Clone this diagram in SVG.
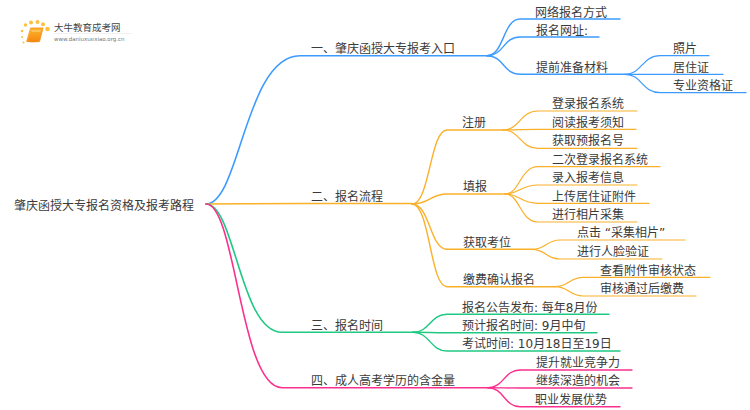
<svg xmlns="http://www.w3.org/2000/svg" width="750" height="410" viewBox="0 0 750 410">
<style>
text{font-family:"DejaVu Sans","Noto Sans CJK SC",sans-serif;font-size:12px;fill:#3a3a3a}
path{fill:none;stroke-linecap:round}
.b{stroke:#3d9bff}.o{stroke:#fbb02a}.g{stroke:#1fc982}.p{stroke:#fb2f8d}
.w1{stroke-width:1.6}.w2{stroke-width:1.4}.w3{stroke-width:1.2}
.dot{fill:#fcc23e}
</style>
<defs><linearGradient id="book" x1="0" y1="0" x2="0" y2="1"><stop offset="0" stop-color="#fbb62e"/><stop offset="1" stop-color="#f5860f"/></linearGradient></defs>
<rect width="750" height="410" fill="#fff"/>
<g id="logo">
<circle cx="22" cy="31" r="1.300" class="dot"/><circle cx="25.500" cy="25" r="1.700" class="dot"/><circle cx="31" cy="22.500" r="2" class="dot"/><circle cx="37.500" cy="22" r="2" class="dot"/><circle cx="43" cy="24.300" r="2" class="dot"/><circle cx="47.500" cy="29" r="2.300" class="dot"/><circle cx="22" cy="37" r="1" class="dot"/><circle cx="23.500" cy="42.500" r="1" class="dot"/>
<path d="M31 28H43L39.500 41.500Q33 42.500 27 41.500Z" style="fill:url(#book);stroke:#f58a10;stroke-width:.8"/>
<path d="M32 31H40" style="stroke:#ffd88a;stroke-width:1"/>
<path d="M54 33.500H132" style="stroke:#eee;stroke-width:.8"/>
<text x="54" y="31" style="font-size:9.500px;fill:#444">大牛教育成考网</text>
<text x="54" y="41" style="font-size:5.500px;fill:#777">www.daniuxuexiao.org.cn</text>
</g>
<g id="connectors">
<g class="w1">
<path class="b" d="M206 204C240 204 245 55.700 300 55.700H487"/>
<path class="o" d="M206 204C240 204 260 203.500 300 203.500H412"/>
<path class="g" d="M206 204C235 204 240 332.300 282 332.300H413"/>
<path class="p" d="M206 204C236 204 240 387.700 282 387.700H488"/>
</g>
<g class="w2">
<path class="b" d="M487 55.700C504 55.700 503 19 520 19H620"/>
<path class="b" d="M487 55.700C504 55.700 503 37 520 37H599"/>
<path class="b" d="M487 55.700C504 55.700 503 74.300 520 74.300H625"/>
<path class="o" d="M412 204C430 204 430 130 447 130H503"/>
<path class="o" d="M412 204C430 204 430 194 447 194H505"/>
<path class="o" d="M412 204C430 204 430 249.300 447 249.300H532"/>
<path class="o" d="M412 204C430 204 430 286.700 447 286.700H555"/>
<path class="g" d="M413 332.300C430 332.300 430 314.300 447 314.300H609"/>
<path class="g" d="M413 332.300C430 332.300 430 332.700 447 332.700H597"/>
<path class="g" d="M413 332.300C430 332.300 430 351 447 351H620"/>
<path class="p" d="M488 387.700C504 387.700 504 370 520 370H632"/>
<path class="p" d="M488 387.700C504 387.700 504 388 520 388H632"/>
<path class="p" d="M488 387.700C504 387.700 504 406.700 520 406.700H620"/>
</g>
<g class="w3">
<path class="b" d="M625 74.300C642 74.300 642 55.700 660 55.700H709"/>
<path class="b" d="M625 74.300C642 74.300 642 74.300 660 74.300H723"/>
<path class="b" d="M625 74.300C642 74.300 642 92.700 660 92.700H746"/>
<path class="o" d="M503 130C520 130 520 111 538 111H637"/>
<path class="o" d="M503 130C520 130 520 129.300 538 129.300H636"/>
<path class="o" d="M503 130C520 130 520 148.300 538 148.300H637"/>
<path class="o" d="M505 194C520 194 520 166.700 538 166.700H660"/>
<path class="o" d="M505 194C520 194 520 185 538 185H637"/>
<path class="o" d="M505 194C520 194 520 203.300 538 203.300H649"/>
<path class="o" d="M505 194C520 194 520 222 538 222H637"/>
<path class="o" d="M532 249.300C546 249.300 546 240 560 240H685"/>
<path class="o" d="M532 249.300C546 249.300 546 259 560 259H662"/>
<path class="o" d="M555 286.700C569 286.700 569 277.300 583 277.300H710"/>
<path class="o" d="M555 286.700C569 286.700 569 296 583 296H696"/>
</g>
</g>
<g id="root"><text x="14" y="209.500">肇庆函授大专报名资格及报考路程</text></g>
<g id="n1"><text x="311" y="53">一、肇庆函授大专报考入口</text></g>
<g id="n1-1"><text x="535" y="16.500">网络报名方式</text></g>
<g id="n1-2"><text x="536" y="34.500">报名网址:</text></g>
<g id="n1-3"><text x="536" y="71.500">提前准备材料</text></g>
<g id="n1-3-1"><text x="673" y="53">照片</text></g>
<g id="n1-3-2"><text x="673" y="71.500">居住证</text></g>
<g id="n1-3-3"><text x="673" y="90">专业资格证</text></g>
<g id="n2"><text x="311" y="201">二、报名流程</text></g>
<g id="n2-1"><text x="462" y="127">注册</text></g>
<g id="n2-1-1"><text x="552" y="108">登录报名系统</text></g>
<g id="n2-1-2"><text x="552" y="126.500">阅读报考须知</text></g>
<g id="n2-1-3"><text x="552" y="145">获取预报名号</text></g>
<g id="n2-2"><text x="463" y="191">填报</text></g>
<g id="n2-2-1"><text x="552" y="163.500">二次登录报名系统</text></g>
<g id="n2-2-2"><text x="552" y="182">录入报考信息</text></g>
<g id="n2-2-3"><text x="552" y="200.500">上传居住证附件</text></g>
<g id="n2-2-4"><text x="552" y="219">进行相片采集</text></g>
<g id="n2-3"><text x="463" y="246.500">获取考位</text></g>
<g id="n2-3-1"><text x="577" y="237">点击 “采集相片”</text></g>
<g id="n2-3-2"><text x="577" y="256">进行人脸验证</text></g>
<g id="n2-4"><text x="463" y="284">缴费确认报名</text></g>
<g id="n2-4-1"><text x="600" y="274.500">查看附件审核状态</text></g>
<g id="n2-4-2"><text x="600" y="293">审核通过后缴费</text></g>
<g id="n3"><text x="311" y="329.500">三、报名时间</text></g>
<g id="n3-1"><text x="462" y="311.500">报名公告发布: 每年8月份</text></g>
<g id="n3-2"><text x="462" y="330">预计报名时间: 9月中旬</text></g>
<g id="n3-3"><text x="462" y="348">考试时间: 10月18日至19日</text></g>
<g id="n4"><text x="311" y="385">四、成人高考学历的含金量</text></g>
<g id="n4-1"><text x="536" y="367">提升就业竞争力</text></g>
<g id="n4-2"><text x="536" y="385">继续深造的机会</text></g>
<g id="n4-3"><text x="535" y="404">职业发展优势</text></g>
</svg>
